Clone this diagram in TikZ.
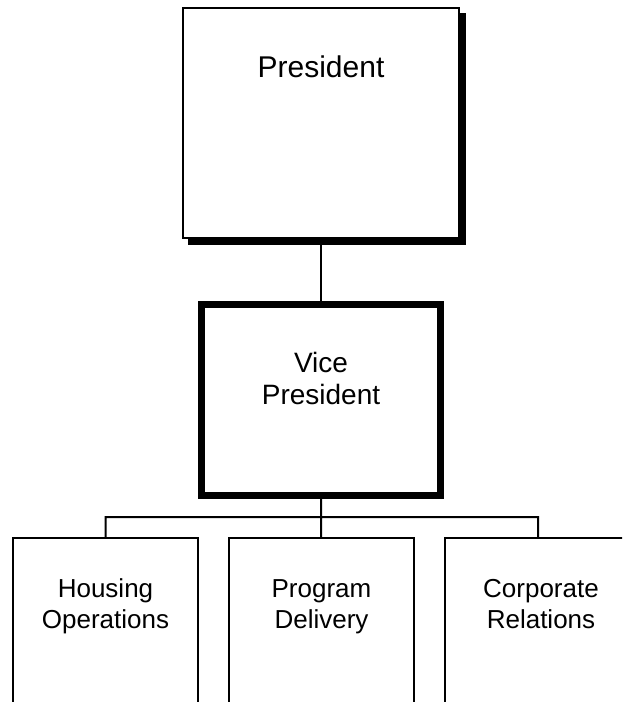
\documentclass[tikz,border=0pt]{standalone}
\usepackage{fontspec}
\setmainfont{Liberation Sans}
\usetikzlibrary{shadows}

\begin{document}
\begin{tikzpicture}[x=1pt,y=-1pt,
    box/.style={draw,line width=2pt,fill=white,inner sep=0pt,outer sep=0pt},
    txt/.style={align=center,anchor=base,inner sep=0pt},
    conn/.style={line width=2pt}]
  \useasboundingbox (0,0) rectangle (622,702);
  \clip (0,0) rectangle (622,702);
  % boxes
  \node[box,minimum width=276pt,minimum height=230pt,
        general shadow={fill=black,draw=black,line width=2pt,shadow xshift=6pt,shadow yshift=-6pt}] (pres) at (321,123) {};
  \node[box,line width=7pt,minimum width=239pt,minimum height=191pt] (vp) at (321,400) {};
  \node[box,minimum width=185pt,minimum height=202pt] (hous) at (105.5,639) {};
  \node[box,minimum width=185pt,minimum height=202pt] (prog) at (321.5,639) {};
  \node[box,minimum width=186pt,minimum height=202pt] (corp) at (538,639) {};
  % texts (base = last line)
  \node[txt,font=\fontsize{30}{34}\selectfont] (prestxt) at (321,77) {President};
  \node[txt,font=\fontsize{28}{32}\selectfont] (vptxt) at (321,404) {Vice\\President};
  \node[txt,font=\fontsize{26}{31}\selectfont] (houstxt) at (105.5,628) {Housing\\Operations};
  \node[txt,font=\fontsize{26}{31}\selectfont] (progtxt) at (321.5,628) {Program\\Delivery};
  \node[txt,font=\fontsize{26}{31}\selectfont] (corptxt) at (541,628) {Corporate\\Relations};
  % connectors
  \coordinate (bus) at (321,517);
  \draw[conn] (pres) -- (vp);
  \draw[conn] (vp) -- (bus) (hous) |- (bus) -| (corp) (bus) -- (prog);
\end{tikzpicture}
\end{document}
